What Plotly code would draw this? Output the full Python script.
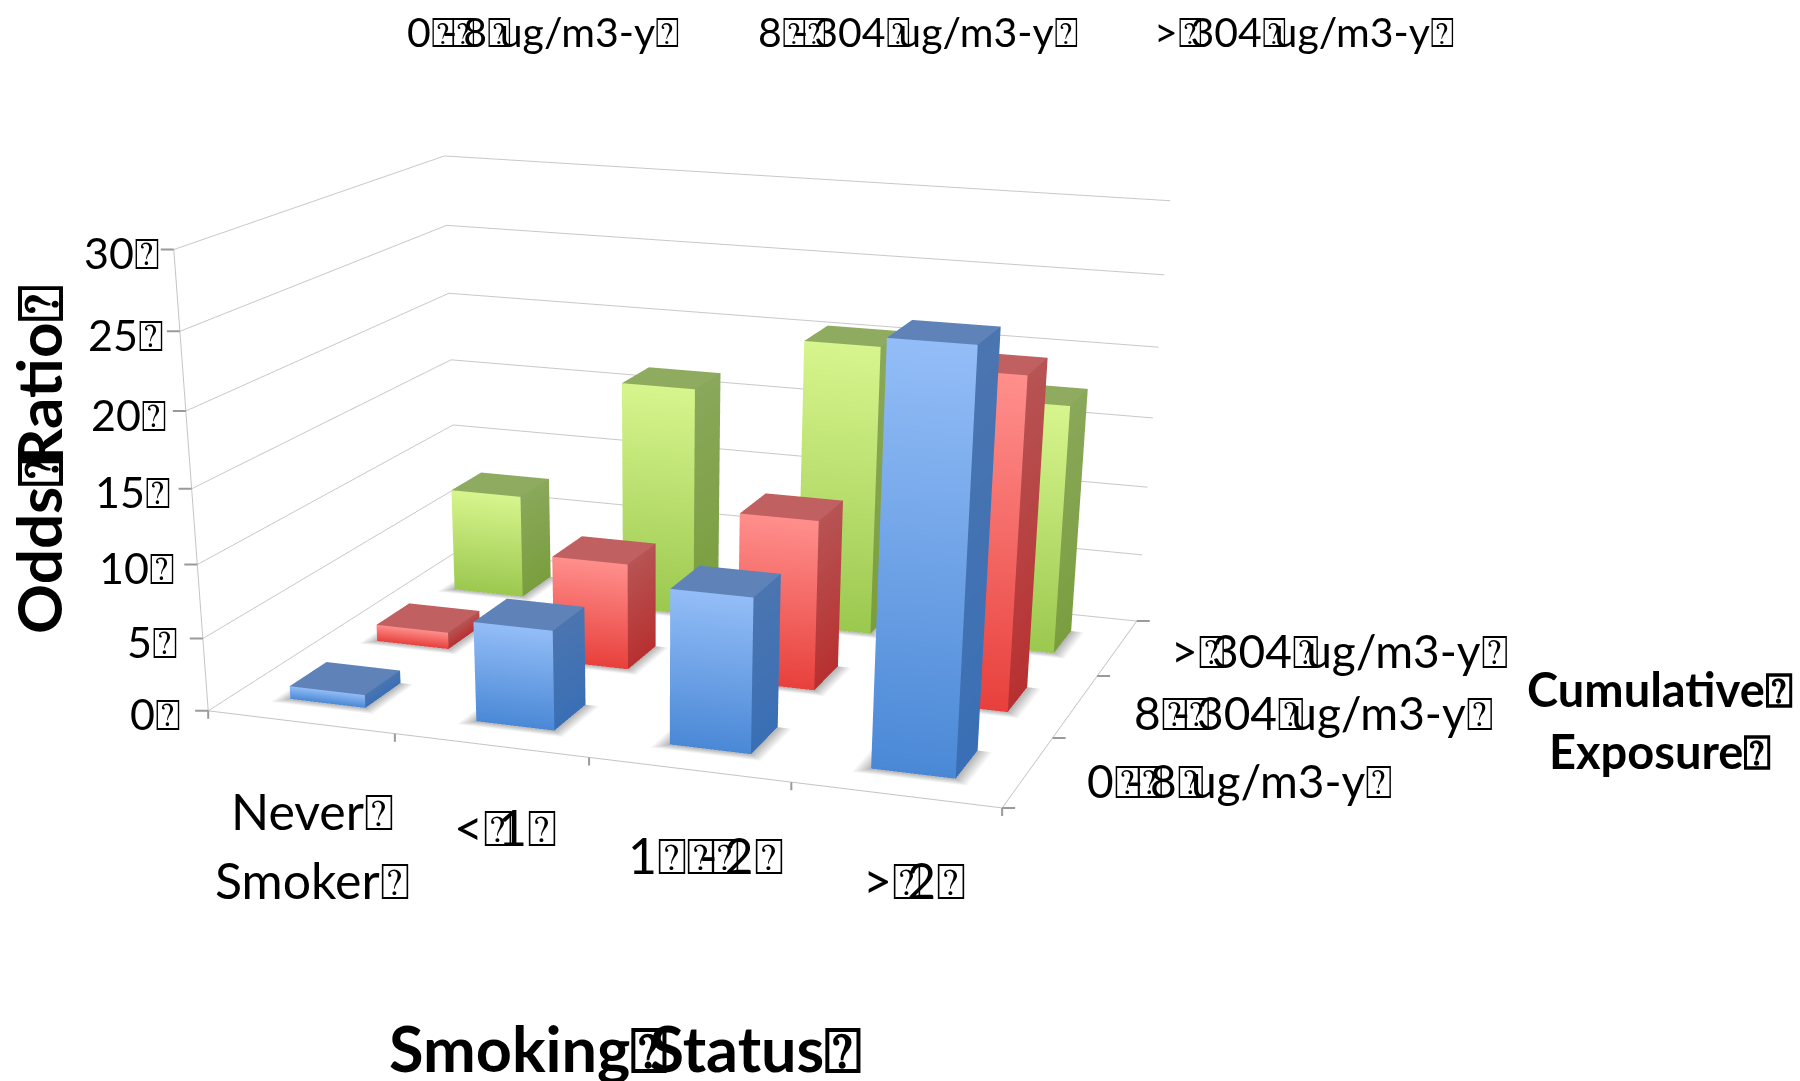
import plotly.graph_objects as go

# Figure canvas is taller than the window so the fixed 45-degree lens gives a long focal length
WIDTH, HEIGHT = 1800, 2400
BOX = "\u2370"

smoking_status = [["Never" + BOX, "Smoker" + BOX], ["<" + BOX + "1" + BOX],
                  ["1" + BOX + BOX + "-" + BOX + "2" + BOX], [">" + BOX + "2" + BOX]]
exposure_bands = ["0" + BOX + "-" + BOX + "8" + BOX + "ug/m3-y" + BOX,
                  "8" + BOX + "-" + BOX + "304" + BOX + "ug/m3-y" + BOX,
                  ">" + BOX + "304" + BOX + "ug/m3-y" + BOX]
odds_ticks = [0, 5, 10, 15, 20, 25, 30]

# Odds ratios per smoking status, one list per exposure band
low_exposure = [0.9, 6.8, 10.4, 27.1]
mid_exposure = [1.2, 7.5, 11.8, 22.5]
high_exposure = [7.6, 16.6, 20.6, 17.6]

BAR_WIDTH = 0.408
SERIES = [
    (low_exposure, 0, dict(ft="#93bdf7", fb="#4a88d6", st="#4b75b0", sb="#3a6fb5", t="#5f82b8")),
    (mid_exposure, 1, dict(ft="#ff8f8c", fb="#e8403c", st="#b75454", sb="#b83030", t="#c06060")),
    (high_exposure, 2, dict(ft="#d7f58d", fb="#9bc84f", st="#8aa85a", sb="#7a9e3e", t="#8fab60")),
]


def overlap(label, size):
    """Tighten the box glyphs so that the next character sits partly on top of them."""
    out = []
    for n, ch in enumerate(label):
        nxt = label[n + 1] if n < len(label) - 1 else ""
        prev = label[n - 1] if n else ""
        gap = None
        if ch == BOX and nxt == BOX:
            gap = -0.02
        elif ch == BOX and nxt == "-":
            gap = -0.34
        elif ch == BOX and nxt:
            gap = -0.3
        elif ch == "-" and prev == BOX:
            gap = -0.16
        if gap is None:
            out.append(ch)
        else:
            out.append(f'<span style="letter-spacing:{gap * size:.1f}px">{ch}</span>')
    return "".join(out)


FLAT = dict(ambient=1, diffuse=0, specular=0, fresnel=0, roughness=1)


def bar_mesh(values, row, c):
    xs, ys, zs, cols, i, j, k = [], [], [], [], [], [], []

    def quad(corners, colours):
        base = len(xs)
        for (a, b, h), col in zip(corners, colours):
            xs.append(a); ys.append(b); zs.append(h); cols.append(col)
        i.extend([base, base]); j.extend([base + 1, base + 2]); k.extend([base + 2, base + 3])

    for n, v in enumerate(values):
        x0, x1 = n + 0.5 - BAR_WIDTH / 2, n + 0.5 + BAR_WIDTH / 2
        y0, y1 = row + 0.5 - BAR_WIDTH / 2, row + 0.5 + BAR_WIDTH / 2
        quad([(x0, y0, 0), (x1, y0, 0), (x1, y0, v), (x0, y0, v)], [c["fb"], c["fb"], c["ft"], c["ft"]])
        quad([(x1, y0, 0), (x1, y1, 0), (x1, y1, v), (x1, y0, v)], [c["sb"], c["sb"], c["st"], c["st"]])
        quad([(x0, y0, v), (x1, y0, v), (x1, y1, v), (x0, y1, v)], [c["t"]] * 4)
    return go.Mesh3d(x=xs, y=ys, z=zs, i=i, j=j, k=k, vertexcolor=cols, flatshading=True,
                     lighting=FLAT, hoverinfo="skip", showscale=False)


def shadow_mesh():
    # Grey fading to white on the floor around every bar
    xs, ys, zs, cols, i, j, k = [], [], [], [], [], [], []
    sx, sy = 0.075, 0.075

    def quad(corners, colours):
        base = len(xs)
        for (a, b), col in zip(corners, colours):
            xs.append(a); ys.append(b); zs.append(0); cols.append(col)
        i.extend([base, base]); j.extend([base + 1, base + 2]); k.extend([base + 2, base + 3])

    grey, white = "#b4b4b4", "#ffffff"
    for row in range(3):
        for n in range(4):
            x0, x1 = n + 0.5 - BAR_WIDTH / 2, n + 0.5 + BAR_WIDTH / 2
            y0, y1 = row + 0.5 - BAR_WIDTH / 2, row + 0.5 + BAR_WIDTH / 2
            quad([(x0, y0), (x1, y0), (x1 + sx, y0 - sy), (x0 - sx, y0 - sy)], [grey, grey, white, white])
            quad([(x1, y0), (x1, y1), (x1 + sx, y1), (x1 + sx, y0 - sy)], [grey, grey, white, white])
            quad([(x0, y0), (x0, y1), (x0 - sx, y1), (x0 - sx, y0 - sy)], [grey, grey, white, white])
    return go.Mesh3d(x=xs, y=ys, z=zs, i=i, j=j, k=k, vertexcolor=cols, flatshading=True,
                     lighting=FLAT, hoverinfo="skip", showscale=False)


FONT = "Lato, 'DejaVu Sans', sans-serif"
INK = "#000000"
TICK = "#9a9a9a"


def tick_mark(x, y, z, ax, ay):
    return dict(x=x, y=y, z=z, text=" ", showarrow=True, arrowhead=0, arrowwidth=2, arrowcolor=TICK,
                ax=ax, ay=ay, standoff=0)


def tick_label(x, y, z, text, size, xshift, yshift, anchor):
    return dict(x=x, y=y, z=z, text=overlap(text, size), showarrow=False, xshift=xshift, yshift=yshift,
                xanchor=anchor, yanchor="middle", font=dict(family=FONT, size=size, color=INK))


SIZE_Z, SIZE_X, SIZE_Y = 43, 50, 46
scene_notes = []
for v in odds_ticks:
    scene_notes.append(tick_mark(0, 0, v, -16, 0))
    scene_notes.append(tick_label(0, 0, v, f"{v}{BOX}", SIZE_Z, -25 + 13 * v / 30, -3, "right"))
for n in range(5):
    scene_notes.append(tick_mark(n, 0, 0, 0, 18))
for n in range(4):
    scene_notes.append(tick_mark(4, n, 0, 16, 0))
scene_notes.append(tick_label(0.5, 0, 0, smoking_status[0][0], SIZE_X, 12, -89, "center"))
scene_notes.append(tick_label(0.5, 0, 0, smoking_status[0][1], SIZE_X, 12, -158, "center"))
scene_notes.append(tick_label(1.5, 0, 0, smoking_status[1][0], SIZE_X, 14, -82, "center"))
scene_notes.append(tick_label(2.5, 0, 0, smoking_status[2][0], SIZE_X, 17, -85, "center"))
scene_notes.append(tick_label(3.5, 0, 0, smoking_status[3][0], SIZE_X, 19, -85, "center"))
scene_notes.append(tick_label(4, 0.5, 0, exposure_bands[0], SIZE_Y, 57, -9, "left"))
scene_notes.append(tick_label(4, 1.5, 0, exposure_bands[1], SIZE_Y, 56, -6, "left"))
scene_notes.append(tick_label(4, 2.5, 0, exposure_bands[2], SIZE_Y, 52, -3, "left"))


def page_text(px, py, text, size, bold=False, angle=0):
    body = overlap(text, size)
    return dict(x=px / WIDTH, y=1 - py / HEIGHT, xref="paper", yref="paper", showarrow=False,
                text=f"<b>{body}</b>" if bold else body, textangle=angle, xanchor="center", yanchor="middle",
                font=dict(family=FONT, size=size, color=INK))


page_notes = [
    page_text(543, 32, exposure_bands[0], 41),
    page_text(918, 32, exposure_bands[1], 41),
    page_text(1304, 32, exposure_bands[2], 41),
    page_text(38, 460, "Odds" + BOX + "Ratio" + BOX, 62, bold=True, angle=-90),
    page_text(625, 1047, "Smoking" + BOX + "Status" + BOX, 63, bold=True),
    page_text(1660, 689, "Cumulative" + BOX, 47, bold=True),
    page_text(1660, 751, "Exposure" + BOX, 47, bold=True),
]

AXIS_LINE = "#c4c4c4"
fig = go.Figure([shadow_mesh()] + [bar_mesh(v, r, c) for v, r, c in SERIES])
fig.update_layout(
    width=WIDTH, height=HEIGHT, margin=dict(l=0, r=0, t=0, b=0), showlegend=False,
    paper_bgcolor="white", annotations=page_notes,
    scene=dict(
        domain=dict(x=[0, 0.79441], y=[0, 1]),
        aspectmode="manual", aspectratio=dict(x=1.330, y=1.035, z=0.7265),
        camera=dict(eye=dict(x=1.557, y=-4.581, z=1.148), center=dict(x=0.291, y=-0.744, z=-0.985),
                    up=dict(x=-0.439, y=1.277, z=1)),
        annotations=scene_notes,
        xaxis=dict(range=[0, 4], tickvals=[0, 1, 2, 3, 4], showticklabels=False, showgrid=False, showline=True,
                   linecolor=AXIS_LINE, linewidth=2, showbackground=False, title="", zeroline=False, showspikes=False),
        yaxis=dict(range=[0, 3], tickvals=[0, 1, 2, 3], showticklabels=False, showgrid=False, showline=True,
                   linecolor=AXIS_LINE, linewidth=2, showbackground=False, title="", zeroline=False, showspikes=False),
        zaxis=dict(range=[0, 30], tickvals=odds_ticks, showticklabels=False, showline=True, linecolor=AXIS_LINE,
                   linewidth=2, gridcolor="#c8c8c8", gridwidth=2, showbackground=False, title="", zeroline=False,
                   showspikes=False),
    ),
)
fig.write_html("out.html")
